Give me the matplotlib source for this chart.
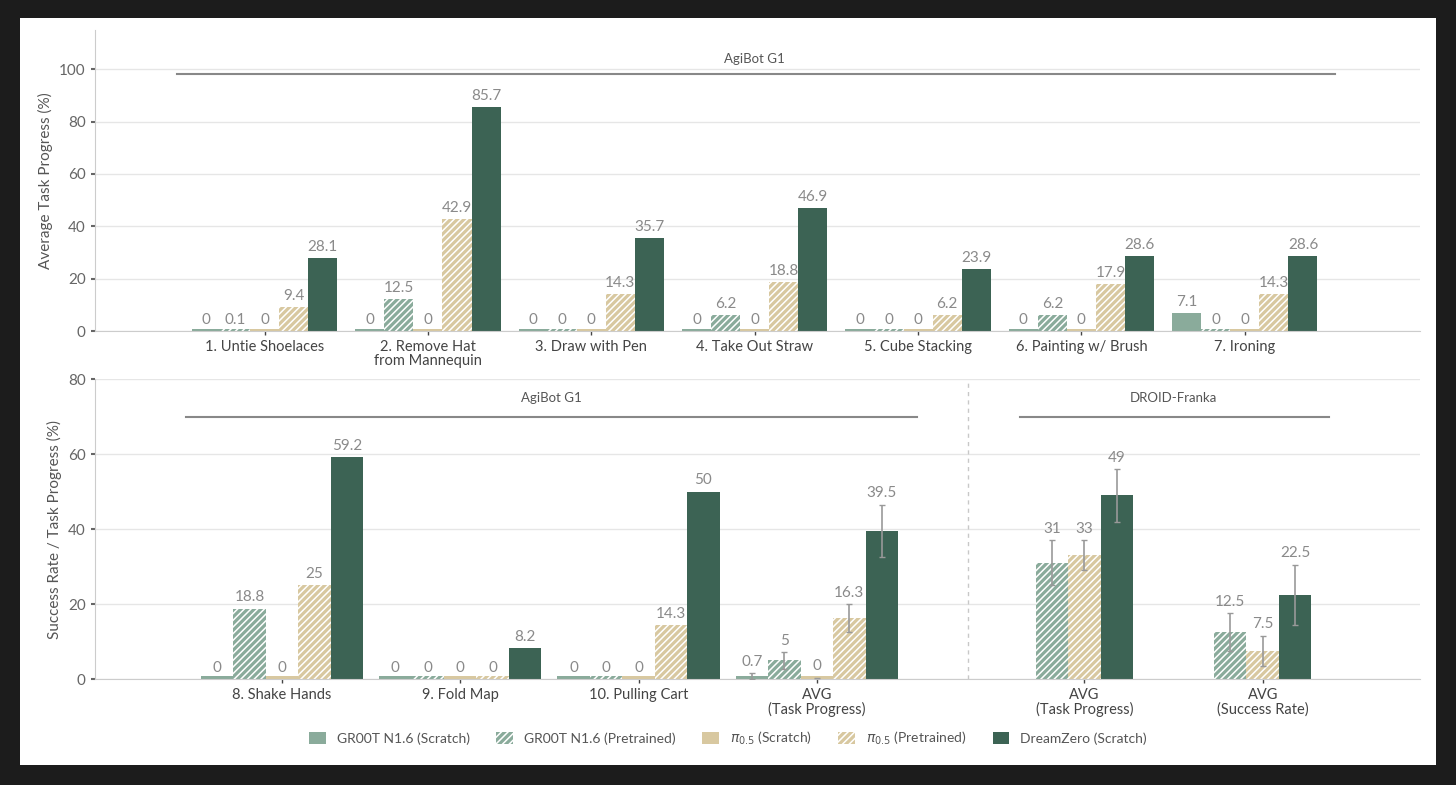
import numpy as np
import matplotlib
matplotlib.use("Agg")
import matplotlib.pyplot as plt
from matplotlib.patches import Rectangle, Patch

plt.rcParams['font.family'] = ['Lato', 'DejaVu Sans']
plt.rcParams['hatch.linewidth'] = 1.1
plt.rcParams['hatch.color'] = 'white'

# ---- data ----
series = ['GR00T N1.6 (Scratch)', 'GR00T N1.6 (Pretrained)',
          r'$\pi_{0.5}$ (Scratch)', r'$\pi_{0.5}$ (Pretrained)', 'DreamZero (Scratch)']
colors = ['#8aab9b', '#8aab9b', '#d8c8a0', '#d8c8a0', '#3c6354']
hatches = [None, '/////', None, '/////', None]

top_tasks = ['1. Untie Shoelaces', '2. Remove Hat\nfrom Mannequin', '3. Draw with Pen',
             '4. Take Out Straw', '5. Cube Stacking', '6. Painting w/ Brush', '7. Ironing']
top_vals = [
    [0, 0, 0, 0, 0, 0, 7.1],
    [0.1, 12.5, 0, 6.2, 0, 6.2, 0],
    [0, 0, 0, 0, 0, 0, 0],
    [9.4, 42.9, 14.3, 18.8, 6.2, 17.9, 14.3],
    [28.1, 85.7, 35.7, 46.9, 23.9, 28.6, 28.6],
]

bot_tasks = ['8. Shake Hands', '9. Fold Map', '10. Pulling Cart', 'AVG\n(Task Progress)']
bot_vals = [
    [0, 0, 0, 0.7],
    [18.8, 0, 0, 5],
    [0, 0, 0, 0],
    [25, 0, 14.3, 16.3],
    [59.2, 8.2, 50, 39.5],
]
bot_err = [
    [0, 0, 0, 0.8],
    [0, 0, 0, 2.2],
    [0, 0, 0, 0.3],
    [0, 0, 0, 3.7],
    [0, 0, 0, 7.0],
]

droid_tasks = ['AVG\n(Task Progress)', 'AVG\n(Success Rate)']
droid_series = [1, 3, 4]  # GR00T pretrained, pi0.5 pretrained, DreamZero
droid_vals = [
    [31, 12.5],
    [33, 7.5],
    [49, 22.5],
]
droid_err = [
    [6, 5],
    [4, 4],
    [7, 8],
]

LABEL_C = '#8a8a8a'
TICK_C = '#666666'

fig = plt.figure(figsize=(14.56, 7.85), dpi=100, facecolor='#1c1c1c')
fig.patches.append(Rectangle((0.0137, 0.0255), 0.9726, 0.9515, transform=fig.transFigure,
                             facecolor='white', edgecolor='none', zorder=-1))

ax1 = fig.add_axes([0.065, 0.578, 0.91, 0.384])
ax2 = fig.add_axes([0.065, 0.135, 0.91, 0.382])


def style(ax):
    for s in ['top', 'right']:
        ax.spines[s].set_visible(False)
    ax.spines['left'].set_color('#cccccc')
    ax.spines['bottom'].set_color('#cccccc')
    ax.grid(axis='y', color='#e6e6e6', linewidth=1)
    ax.set_axisbelow(True)
    ax.tick_params(axis='y', colors=TICK_C, labelsize=11, length=3, width=1.5)
    ax.tick_params(axis='x', colors='#444444', labelsize=10.5, length=3, width=1)


def draw_bar(ax, x, v, w, i, off, err=None):
    h = max(v, 0.7)
    ax.bar(x, h, w, color=colors[i], hatch=hatches[i],
           edgecolor='white' if hatches[i] else colors[i], linewidth=0, zorder=2)
    top = v
    if err:
        ax.errorbar(x, v, yerr=err, color='#999999', elinewidth=1.2, capsize=2, capthick=1, zorder=3)
        top = v + err
    ax.text(x, top + off, f'{v:g}', ha='center', va='bottom', color=LABEL_C, fontsize=11)


# ---- top panel ----
w1 = 0.178
x1 = np.arange(len(top_tasks))
for i in range(5):
    for j, v in enumerate(top_vals[i]):
        draw_bar(ax1, x1[j] + (i - 2) * w1, v, w1, i, 1.5)
ax1.set_xlim(-1.04, 7.07)
ax1.set_ylim(0, 115)
ax1.set_yticks([0, 20, 40, 60, 80, 100])
ax1.set_xticks(x1)
ax1.set_xticklabels(top_tasks, linespacing=1.0)
ax1.set_ylabel('Average Task Progress (%)', color='#555555', fontsize=11)
style(ax1)
ax1.plot([-0.535, 6.55], [98, 98], color='#888888', lw=1.5, clip_on=False)
ax1.text(3.0, 101.5, 'AgiBot G1', ha='center', va='bottom', color='#555555', fontsize=9.5)

# ---- bottom panel ----
w2 = 0.182
x2 = np.arange(len(bot_tasks))
for i in range(5):
    for j, v in enumerate(bot_vals[i]):
        draw_bar(ax2, x2[j] + (i - 2) * w2, v, w2, i, 1.2, bot_err[i][j] or None)

xd = np.array([4.5, 5.5])
for k, i in enumerate(droid_series):
    for j, v in enumerate(droid_vals[k]):
        draw_bar(ax2, xd[j] + (k - 1) * w2, v, w2, i, 1.2, droid_err[k][j])

ax2.set_xlim(-1.05, 6.38)
ax2.set_ylim(0, 80)
ax2.set_yticks([0, 20, 40, 60, 80])
ax2.set_xticks(list(x2) + list(xd))
ax2.set_xticklabels(bot_tasks + droid_tasks, linespacing=1.0)
ax2.set_ylabel('Success Rate / Task Progress (%)', color='#555555', fontsize=11)
style(ax2)
ax2.axvline(3.85, color='#c8c8c8', lw=1, ls=(0, (3, 3)))
ax2.plot([-0.54, 3.56], [70, 70], color='#888888', lw=1.5)
ax2.text(1.51, 73.5, 'AgiBot G1', ha='center', va='bottom', color='#555555', fontsize=9.5)
ax2.plot([4.14, 5.87], [70, 70], color='#888888', lw=1.5)
ax2.text(5.0, 73.5, 'DROID-Franka', ha='center', va='bottom', color='#555555', fontsize=9.5)

handles = [Patch(facecolor=colors[i], hatch=hatches[i], edgecolor='white', linewidth=0) for i in range(5)]
fig.legend(handles, series, loc='center', bbox_to_anchor=(0.5, 0.059), ncol=5, frameon=False,
           fontsize=10, handlelength=1.2, handleheight=1.0, columnspacing=1.9, labelcolor='#555555')

fig.savefig('out.png', dpi=100, facecolor=fig.get_facecolor())
